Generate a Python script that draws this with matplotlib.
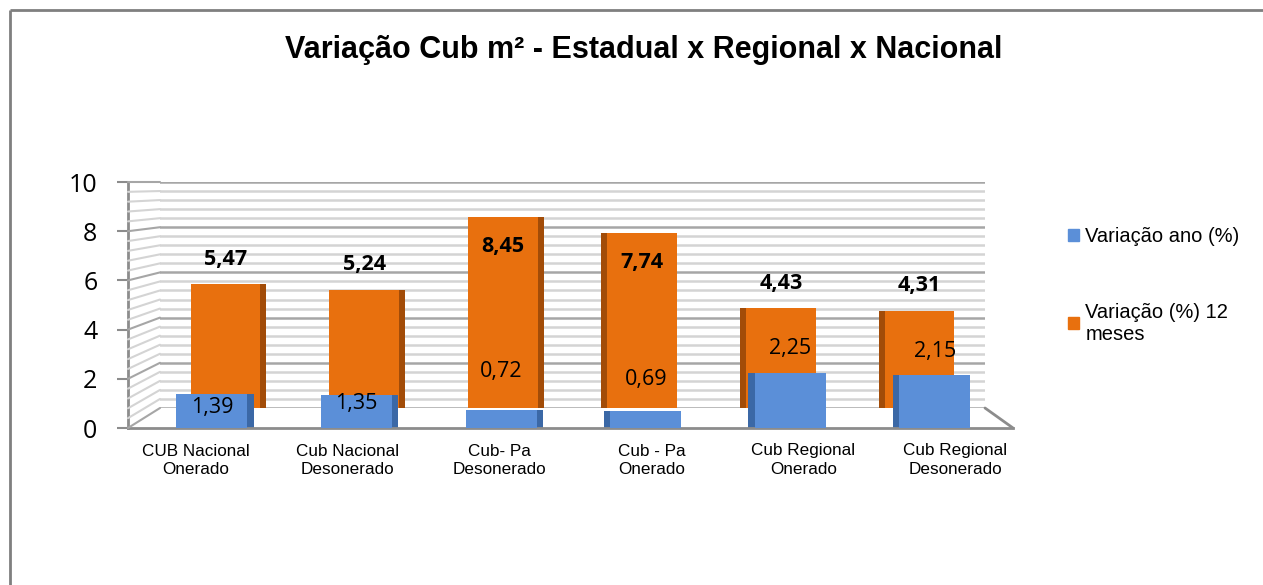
import numpy as np
import matplotlib.pyplot as plt
from matplotlib.patches import Patch, ConnectionPatch
from matplotlib.lines import Line2D

categorias = ['CUB Nacional\nOnerado', 'Cub Nacional\nDesonerado', 'Cub- Pa\nDesonerado',
              'Cub - Pa\nOnerado', 'Cub Regional\nOnerado', 'Cub Regional\nDesonerado']
var_ano = [1.39, 1.35, 0.72, 0.69, 2.25, 2.15]
var_12m = [5.47, 5.24, 8.45, 7.74, 4.43, 4.31]
serie_ano = 'Variação ano (%)'
serie_12m = 'Variação (%) 12\nmeses'
yticks = [0, 2, 4, 6, 8, 10]
titulo = 'Variação Cub m² - Estadual x Regional x Nacional'

azul, azul_esc = '#5B8FD8', '#3B68A6'
laranja, laranja_esc = '#E8700E', '#A24C08'
cinza = '#8c8c8c'

# where the Excel 3D labels sit relative to the bar top
desloc_ano = [-0.57, -0.37, 1.58, 1.3, 0.98, 0.96]

W, H = 1263, 585
fig = plt.figure(figsize=(W / 100, H / 100), dpi=100)


def box(x0, x1, y0, y1):
    # pixel box -> figure fraction
    return [x0 / W, 1 - y1 / H, (x1 - x0) / W, (y1 - y0) / H]


back = fig.add_axes(box(160, 985, 182, 408))
front = fig.add_axes(box(128, 1013, 182, 428))
x = np.arange(len(categorias))

# back wall
back.set_xlim(-0.47, 5.47)
back.set_ylim(0, 10)
back.axis('off')
grade = np.round(np.arange(0, 10.01, 0.4), 2)
for v in grade:
    major = abs(v / 2 - round(v / 2)) < 1e-6
    back.axhline(v, color='#a6a6a6' if major else '#d4d4d4', lw=1.8, zorder=0)
    con = ConnectionPatch(xyA=(-0.47, v), coordsA=back.transData,
                          xyB=(-0.58, v), coordsB=front.transData,
                          color='#a6a6a6' if major else '#d4d4d4', lw=1.5)
    fig.add_artist(con)

fig.add_artist(ConnectionPatch(xyA=(5.47, 0), coordsA=back.transData,
                               xyB=(5.54, 0), coordsB=front.transData,
                               color=cinza, lw=2))

lado = np.where(x < 3, 1, -1) * 0.045
back.bar(x + lado, var_12m, 0.5, color=laranja_esc, zorder=2)
back.bar(x, var_12m, 0.5, color=laranja, zorder=3)
for i, v in enumerate(var_12m):
    yy = v + 1.1 if v < 7 else v - 1.3
    back.text(i, yy, f'{v:.2f}'.replace('.', ','), ha='center', va='center',
              fontsize=15.5, weight='bold', family='Open Sans', zorder=5)

# front plane
front.set_xlim(-0.58, 5.54)
front.set_ylim(0, 10)
front.patch.set_alpha(0)
for s in ['top', 'right']:
    front.spines[s].set_visible(False)
for s in ['left', 'bottom']:
    front.spines[s].set_color(cinza)
    front.spines[s].set_linewidth(2)
front.set_xticks([])
front.set_yticks(yticks)
front.tick_params(axis='y', length=8, width=1.5, color=cinza, labelsize=18, pad=14)
for t in front.get_yticklabels():
    t.set_family('Open Sans')

front.bar(x + lado, var_ano, 0.49, color=azul_esc, zorder=2)
front.bar(x, var_ano, 0.49, color=azul, zorder=3)
for i, v in enumerate(var_ano):
    front.text(i, v + desloc_ano[i], f'{v:.2f}'.replace('.', ','), ha='center', va='center',
               fontsize=15.5, family='Open Sans', zorder=5)

# category labels along the floor edge
lbl = fig.add_axes(box(120, 1031, 430, 431))
lbl.set_xlim(-0.5, 5.5)
lbl.set_xticks(x, categorias, fontsize=12.3, linespacing=1.3, family='Liberation Sans')
lbl.set_yticks([])
lbl.tick_params(axis='x', length=0, pad=9)
for s in lbl.spines.values():
    s.set_visible(False)
lbl.patch.set_alpha(0)

fig.text(644 / W, 1 - 50 / H, titulo, ha='center', va='center', fontsize=22,
         weight='bold', family='Liberation Sans')

fig.legend(handles=[Patch(color=azul), Patch(color=laranja)], labels=[serie_ano, serie_12m],
           loc='upper left', bbox_to_anchor=(1050 / W, 1 - 209 / H), frameon=False,
           prop={'family': 'Liberation Sans', 'size': 14.5}, handlelength=0.55,
           handleheight=0.55, handletextpad=0.3, labelspacing=2.8)

# chart frame (only left and top edges fall inside the picture)
fig.add_artist(Line2D([10 / W, 10 / W], [-0.05, 1 - 10 / H], transform=fig.transFigure,
                      color='#7f7f7f', lw=2, solid_capstyle='butt'))
fig.add_artist(Line2D([10 / W, 1.05], [1 - 10 / H, 1 - 10 / H], transform=fig.transFigure,
                      color='#7f7f7f', lw=2, solid_capstyle='butt'))

fig.savefig('out.png', dpi=100)
